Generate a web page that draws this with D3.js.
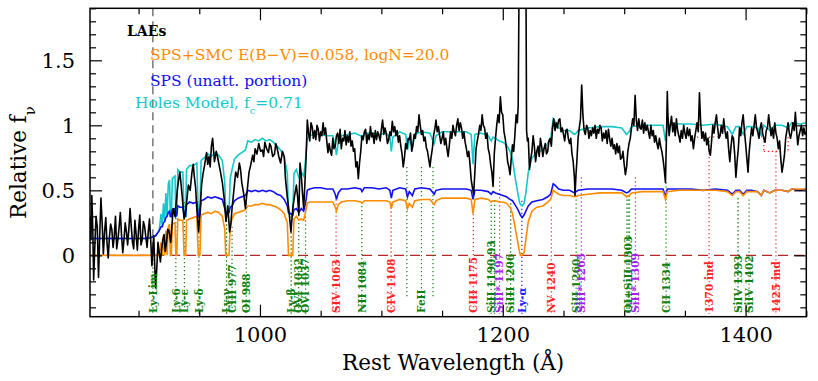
<!DOCTYPE html>
<html>
<head>
<meta charset="utf-8">
<script src="https://cdn.jsdelivr.net/npm/d3@7"></script>
<style>
body { margin: 0; background: #fff; }
svg text { font-family: "DejaVu Serif", serif; }
</style>
</head>
<body>
<div id="chart"></div>
<script>
// composite LAE spectrum [wavelength, relative f_nu]
var laeSpec = [
 [860,0.30],[860.8,0.12],[861.5,0.46],[862.3,0.20],[863,-0.19],[864,0.08],[865,0.30],[866,0.22],[867,-0.17],[868,0.15],
 [869,0.44],[870,0.25],[871,0.01],[872,0.18],[873,0.29],[874,0.10],[875,-0.02],[876,0.14],[877,0.24],[878,0.20],
 [879,0.06],[880,0.15],[881,0.30],[882,0.05],[883,0.12],[884,0.22],[885,0.33],[886,0.15],[887,0.02],[888,0.12],
 [889,0.25],[890,0.18],[891,0.08],[892,0.20],[893,0.36],[894,0.22],[895,0.10],[896,0.05],[897,0.27],[898,0.16],
 [899,0.04],[900,0.20],[901,0.31],[902,0.08],[903,0.12],[904,0.26],[905,0.22],[906,0.14],[907,0.06],[908,0.18],
 [909,0.28],[910,0.12],[911,-0.08],[911.8,0.05],[912.5,0.15],[913.2,-0.05],[914,-0.25],[915,-0.10],[916,0.10],[917,0.02],
 [918,-0.05],[919,0.05],[920,0.12],[921,0.16],[922,0.03],[923,0.10],[924,0.20],[925,0.19],[926.5,0.10],[928.5,0.36],
 [930,0.30],[932,0.51],[933,0.58],[934,0.64],[935,0.55],[936,0.45],[937.5,0.28],[938.5,0.33],[939.5,0.40],[941,0.54],
 [942.5,0.50],[944,0.64],[945,0.70],[946,0.60],[947,0.52],[948,0.35],[949.5,0.18],[951,0.40],[952,0.55],[953,0.62],
 [954.5,0.70],[956,0.79],[957,0.70],[958,0.76],[959,0.68],[960,0.84],[961,0.90],[962.5,0.72],[964,0.80],[965,0.76],
 [966,0.71],[967.5,0.64],[969,0.56],[970.5,0.44],[972,0.26],[973.5,0.38],[975,0.18],[976,0.24],[977,0.36],[978.5,0.50],
 [980,0.64],[981.5,0.60],[983,0.71],[984,0.66],[985,0.56],[986.5,0.48],[988,0.36],[989.5,0.50],[991,0.64],[992.5,0.70],
 [994,0.77],[995,0.72],[996,0.82],[997.5,0.78],[999,0.86],[1000.5,0.80],[1002,0.81],[1003,0.76],[1004,0.87],[1005.5,0.82],
 [1007,0.79],[1008,0.86],[1009,0.84],[1010.5,0.76],[1012,0.78],[1013,0.86],[1014,0.83],[1015.5,0.76],[1017,0.71],[1018.5,0.80],
 [1020,0.76],[1021,0.59],[1022.5,0.45],[1024,0.33],[1025.5,0.18],[1027,0.36],[1028.5,0.46],[1030,0.54],[1031,0.45],[1032,0.31],
 [1033,0.71],[1034,0.62],[1035,0.48],[1036,0.36],[1037,0.55],[1038,0.76],[1039,1.04],[1040,0.94],[1041,0.88],[1042,1.02],
 [1043,0.99],[1044,0.90],[1045,0.96],[1046,0.89],[1047,1.00],[1048,0.97],[1049,0.88],[1050,0.95],[1051,0.92],[1052,1.02],
 [1053,0.93],[1054,0.98],[1055,0.88],[1056,0.79],[1057,0.86],[1058,0.80],[1059,0.77],[1060,0.90],[1061,0.82],[1062,0.84],
 [1063,0.92],[1064,0.94],[1065,0.86],[1066,0.97],[1067,0.82],[1068,0.90],[1069,0.88],[1070,0.96],[1071,0.85],[1072,0.92],
 [1073,0.87],[1074,0.95],[1075,0.84],[1076,0.88],[1077,0.80],[1078,0.82],[1079,0.68],[1080,0.72],[1081,0.59],[1082,0.71],
 [1083,0.80],[1084,0.92],[1085,0.89],[1086,0.95],[1087,0.97],[1088,0.86],[1089,0.93],[1090,0.89],[1091,0.99],[1092,0.91],
 [1093,0.94],[1094,0.86],[1095,0.96],[1096,0.89],[1097,0.95],[1098,0.92],[1099,0.88],[1100,0.97],[1101,1.04],[1102,0.93],
 [1103,0.98],[1104,0.94],[1105,0.86],[1106,0.89],[1107,0.95],[1108,0.92],[1109,1.03],[1110,0.95],[1111,0.99],[1112,0.92],
 [1113,0.96],[1114,0.87],[1115,0.92],[1116,0.84],[1117,0.78],[1118,0.68],[1119,0.75],[1120,0.86],[1121,0.82],[1122,0.90],
 [1123,0.89],[1124,0.94],[1125,0.80],[1126,0.85],[1127,0.93],[1128,0.90],[1129,0.99],[1130,0.95],[1131,1.08],[1132,1.00],
 [1133,0.93],[1134,0.96],[1135,0.88],[1136,0.91],[1137,0.83],[1138,0.80],[1139,0.74],[1140,0.68],[1141,0.76],[1142,0.82],
 [1143,0.92],[1144,0.97],[1145,1.04],[1146,0.95],[1147,0.99],[1148,0.92],[1149,0.86],[1150,0.90],[1151,0.95],[1152,0.85],
 [1153,0.90],[1154,0.82],[1155,0.76],[1156,0.85],[1157,0.95],[1158,0.90],[1159,1.00],[1160,0.95],[1161,0.92],[1162,1.00],
 [1163,1.05],[1164,0.96],[1165,1.02],[1166,0.98],[1167,0.90],[1168,0.95],[1169,0.87],[1170,0.82],[1171,0.76],[1172,0.80],
 [1173,0.70],[1174,0.58],[1175,0.52],[1176,0.47],[1177,0.64],[1178,0.82],[1179,0.88],[1180,0.93],[1181,1.00],[1182,0.96],
 [1183,1.08],[1184,1.00],[1185,0.98],[1186,0.90],[1187,0.94],[1188,0.82],[1189,0.78],[1190,0.70],[1191,0.64],[1192,0.53],
 [1193,0.78],[1194,0.90],[1195,1.00],[1196,1.08],[1197,1.02],[1198,1.22],[1199,1.10],[1200,1.08],[1201,0.95],[1202,0.90],
 [1203,0.82],[1204,0.72],[1205,0.68],[1206,0.62],[1207,0.75],[1208,0.85],[1209,0.80],[1210,0.93],[1211,1.08],[1212,1.02],
 [1212.7,1.15],[1213.5,2.2],[1215,3.4],[1217,3.2],[1219,2.3],[1219.6,0.96],[1220.3,0.88],[1221,0.90],[1222,0.66],[1223,0.74],
 [1224,0.80],[1225,0.92],[1226,0.84],[1227,0.72],[1228,0.80],[1229,0.84],[1230,0.76],[1231,0.90],[1232,0.84],[1233,0.76],
 [1234,0.82],[1235,0.86],[1236,0.78],[1237,0.80],[1238,0.88],[1239,0.90],[1240,0.84],[1241,0.98],[1242,1.05],[1243,0.96],
 [1244,1.02],[1245,0.98],[1246,1.04],[1247,1.05],[1248,0.95],[1249,0.98],[1250,0.93],[1251,0.88],[1252,0.96],[1253,0.97],
 [1254,0.90],[1255,0.86],[1256,0.90],[1257,0.78],[1258,0.72],[1259,0.60],[1259.5,0.46],[1260.3,0.62],[1261,0.72],[1262,0.90],
 [1263,0.98],[1264,1.05],[1265,1.31],[1266,1.08],[1267,0.96],[1268,0.93],[1269,1.00],[1270,0.98],[1271,0.90],[1272,0.96],
 [1273,0.92],[1274,0.98],[1275,0.94],[1276,1.00],[1277,0.90],[1278,0.97],[1279,0.94],[1280,1.00],[1281,0.98],[1282,0.88],
 [1283,0.94],[1284,0.90],[1285,0.96],[1286,0.86],[1287,0.97],[1288,0.90],[1289,0.84],[1290,0.90],[1291,0.82],[1292,0.85],
 [1293,0.78],[1294,0.86],[1295,0.79],[1296,0.84],[1297,0.74],[1298,0.75],[1299,0.80],[1300,0.70],[1301,0.62],[1302,0.68],
 [1303,0.80],[1304,0.86],[1305,0.90],[1306,0.98],[1307,1.05],[1308,1.00],[1309,1.23],[1310,1.04],[1311,0.96],[1312,1.05],
 [1313,0.98],[1314,0.97],[1315,1.04],[1316,0.94],[1317,1.02],[1318,0.96],[1319,1.00],[1320,0.95],[1321,0.90],[1322,1.00],
 [1323,0.92],[1324,0.96],[1325,0.87],[1326,0.92],[1327,0.86],[1328,0.82],[1329,0.90],[1330,0.84],[1331,0.80],[1332,0.74],
 [1333,0.66],[1334,0.56],[1335,1.00],[1335.5,1.26],[1336,1.08],[1337,0.92],[1338,1.00],[1339,1.07],[1340,0.95],[1341,1.02],
 [1342,0.92],[1343,1.05],[1344,0.96],[1345,0.92],[1346,0.87],[1347,0.96],[1348,0.90],[1349,1.00],[1350,0.94],[1351,0.90],
 [1352,0.98],[1353,0.92],[1354,0.97],[1355,0.88],[1356,0.92],[1357,0.82],[1358,0.90],[1359,0.96],[1360,1.02],[1361,0.95],
 [1362,1.25],[1363,1.02],[1364,0.90],[1365,0.95],[1366,0.88],[1367,0.94],[1368,0.85],[1369,0.90],[1370,0.80],[1371,0.77],
 [1372,0.88],[1373,1.00],[1374,0.94],[1375,1.02],[1376,1.08],[1377,0.98],[1378,0.90],[1379,0.92],[1380,1.00],[1381,0.94],
 [1382,1.05],[1383,0.96],[1384,0.90],[1385,0.95],[1386,0.82],[1387,0.72],[1388,0.84],[1389,0.92],[1390,0.90],[1391,0.78],
 [1392,0.60],[1393,0.72],[1394,0.82],[1395,0.98],[1396,0.92],[1397,1.02],[1398,1.08],[1399,0.96],[1400,0.86],[1401,0.75],
 [1402,0.64],[1403,0.80],[1404,0.90],[1405,0.98],[1406,0.92],[1407,1.00],[1408,1.08],[1409,0.98],[1410,0.95],[1411,0.90],
 [1412,0.98],[1413,1.02],[1414,0.94],[1415,0.90],[1416,0.87],[1417,0.96],[1418,0.98],[1419,1.08],[1420,1.00],[1421,0.92],
 [1422,0.98],[1423,0.90],[1424,1.02],[1425,0.94],[1426,0.90],[1427,0.82],[1428,0.88],[1429,0.74],[1430,0.64],[1431,0.70],
 [1432,0.77],[1433,0.90],[1434,0.96],[1435,1.02],[1436,0.94],[1437,0.90],[1438,0.95],[1439,1.02],[1440,0.96],[1441,1.10],
 [1442,0.96],[1443,0.85],[1444,0.92],[1445,0.96],[1446,1.00],[1447,0.92],[1448,0.98],[1449,0.93],[1450,0.95]
];

// SPS, unattenuated portion
var spsUnatt = [
 [860,0.13],[905,0.13],[910,0.135],[914,0.15],[917,0.19],[918.5,0.22],[919.5,0.22],[920.5,0.25],[921.5,0.26],[922.5,0.29],
 [923.5,0.30],[924.5,0.33],[925.5,0.34],[926.2,0.30],[927,0.30],[927.8,0.35],[930,0.36],[930.7,0.30],[931.5,0.31],[932.3,0.38],
 [934,0.37],[936.5,0.37],[937.5,0.30],[938.8,0.30],[939.5,0.39],[942,0.41],[945,0.40],[948,0.41],[949.2,0.30],[950.5,0.30],
 [951.5,0.42],[954,0.43],[957,0.45],[960,0.44],[963,0.45],[966,0.44],[969,0.43],[971,0.36],[971.8,0.33],[974.5,0.33],
 [975.5,0.37],[977,0.38],[979,0.42],[982,0.44],[985,0.45],[988,0.46],[990,0.50],[993,0.49],[996,0.50],[999,0.49],
 [1002,0.50],[1005,0.49],[1008,0.50],[1011,0.49],[1014,0.47],[1017,0.46],[1020,0.43],[1022.5,0.38],[1023.5,0.33],[1027,0.31],
 [1028,0.35],[1030,0.36],[1032,0.33],[1034,0.36],[1036,0.34],[1037.5,0.40],[1039,0.50],[1041,0.51],[1045,0.52],[1050,0.52],
 [1055,0.51],[1060,0.51],[1062,0.47],[1063,0.43],[1064.5,0.48],[1067,0.51],[1072,0.51],[1078,0.52],[1083,0.51],[1084,0.49],
 [1086,0.52],[1092,0.52],[1098,0.51],[1104,0.52],[1107,0.50],[1108.2,0.44],[1109.5,0.50],[1115,0.52],[1120,0.51],[1121.5,0.45],
 [1123,0.49],[1125.5,0.46],[1127.5,0.51],[1133,0.52],[1140,0.51],[1143.5,0.47],[1145,0.50],[1150,0.51],[1160,0.51],[1170,0.51],
 [1174,0.50],[1175.5,0.43],[1177,0.50],[1182,0.50],[1188,0.49],[1190.5,0.47],[1192,0.49],[1194,0.48],[1197,0.47],[1200,0.46],
 [1203,0.45],[1206,0.43],[1208,0.42],[1210,0.39],[1212,0.36],[1213.5,0.33],[1214.5,0.31],[1216,0.29],[1217.5,0.31],[1219,0.34],
 [1221,0.38],[1224,0.41],[1228,0.42],[1233,0.43],[1237,0.45],[1239.5,0.47],[1241.5,0.55],[1243,0.54],[1246,0.51],[1250,0.50],
 [1255,0.50],[1259,0.48],[1260.5,0.49],[1262,0.50],[1270,0.51],[1280,0.51],[1290,0.51],[1298,0.50],[1302,0.48],[1304,0.49],
 [1306,0.51],[1315,0.51],[1325,0.51],[1332,0.51],[1334,0.45],[1335.5,0.51],[1345,0.51],[1355,0.51],[1365,0.50],[1375,0.51],
 [1385,0.50],[1389,0.47],[1392,0.50],[1395,0.50],[1398,0.47],[1401,0.50],[1405,0.50],[1410,0.49],[1413,0.46],[1415,0.50],
 [1420,0.48],[1424,0.50],[1430,0.50],[1435,0.49],[1438,0.51],[1445,0.50],[1450,0.51]
];

// SPS + SMC, E(B-V)=0.058, logN=20.0
var spsSmc = [
 [860,0],[917,0],[918.5,0.10],[919.5,0],[920.5,0.15],[921.5,0],[922.5,0.19],[923.5,0],[924.5,0.22],[925.5,0.24],
 [926.2,0],[927,0],[927.8,0.24],[930,0.25],[930.7,0],[931.5,0],[932.3,0.28],[934,0.27],[936.5,0.27],[937.5,0],
 [938.8,0],[939.5,0.27],[942,0.28],[945,0.29],[948,0.30],[949.2,0],[950.5,0],[951.5,0.31],[954,0.32],[957,0.33],
 [960,0.32],[963,0.34],[966,0.33],[969,0.30],[971,0.20],[971.8,0],[974.5,0],[975.5,0.22],[977,0.28],[979,0.32],
 [982,0.33],[985,0.34],[988,0.35],[990,0.38],[993,0.38],[996,0.39],[999,0.39],[1002,0.40],[1005,0.39],[1008,0.39],
 [1011,0.38],[1014,0.37],[1017,0.35],[1020,0.32],[1022.5,0.25],[1023.5,0],[1027,0],[1028,0.28],[1030,0.30],[1032,0.27],
 [1034,0.28],[1036,0.27],[1037.5,0.33],[1039,0.40],[1041,0.41],[1045,0.41],[1050,0.41],[1055,0.41],[1060,0.41],[1062,0.37],
 [1063,0.34],[1064.5,0.39],[1067,0.41],[1072,0.42],[1078,0.42],[1083,0.41],[1084,0.40],[1086,0.42],[1092,0.42],[1098,0.42],
 [1104,0.42],[1107,0.41],[1108.2,0.36],[1109.5,0.41],[1115,0.43],[1120,0.42],[1121.5,0.36],[1123,0.40],[1125.5,0.37],[1127.5,0.42],
 [1133,0.43],[1140,0.43],[1143.5,0.39],[1145,0.42],[1150,0.44],[1160,0.44],[1170,0.44],[1174,0.43],[1175.5,0.32],[1177,0.43],
 [1182,0.44],[1188,0.43],[1190.5,0.41],[1192,0.42],[1194,0.42],[1197,0.41],[1200,0.41],[1203,0.40],[1206,0.37],[1208,0.32],
 [1210,0.22],[1212,0.12],[1213.5,0.04],[1214.5,0],[1216,0],[1217.5,0.02],[1219,0.12],[1221,0.26],[1224,0.34],[1228,0.37],
 [1233,0.38],[1237,0.41],[1239.5,0.43],[1241.5,0.50],[1243,0.49],[1246,0.47],[1250,0.46],[1255,0.46],[1259,0.45],[1260.5,0.45],
 [1262,0.46],[1270,0.47],[1280,0.48],[1290,0.48],[1298,0.48],[1302,0.45],[1304,0.46],[1306,0.48],[1315,0.49],[1325,0.49],
 [1332,0.49],[1334,0.43],[1335.5,0.49],[1345,0.50],[1355,0.50],[1365,0.50],[1375,0.50],[1385,0.49],[1389,0.46],[1392,0.49],
 [1395,0.49],[1398,0.46],[1401,0.49],[1405,0.49],[1410,0.49],[1413,0.46],[1415,0.50],[1420,0.48],[1424,0.50],[1430,0.50],
 [1435,0.49],[1438,0.51],[1445,0.51],[1450,0.51]
];

// holes model, f_c = 0.71
var holesModel = [
 [860,0.13],[905,0.13],[910,0.135],[914,0.15],[917,0.19],[918.5,0.32],[919.5,0.22],[920.5,0.40],[921.5,0.26],[922.5,0.48],
 [923.5,0.30],[924.5,0.55],[925.5,0.58],[926.2,0.30],[927,0.30],[927.8,0.59],[930,0.61],[930.7,0.30],[931.5,0.31],[932.3,0.66],
 [934,0.64],[936.5,0.64],[937.5,0.30],[938.8,0.30],[939.5,0.66],[942,0.69],[945,0.69],[948,0.71],[949.2,0.30],[950.5,0.30],
 [951.5,0.73],[954,0.75],[957,0.78],[960,0.76],[963,0.79],[966,0.77],[969,0.73],[971,0.56],[971.8,0.33],[974.5,0.33],
 [975.5,0.59],[977,0.66],[979,0.74],[982,0.77],[985,0.79],[988,0.81],[990,0.88],[993,0.87],[996,0.89],[999,0.88],
 [1002,0.90],[1005,0.88],[1008,0.89],[1011,0.87],[1014,0.84],[1017,0.81],[1020,0.75],[1022.5,0.63],[1023.5,0.33],[1027,0.31],
 [1028,0.63],[1030,0.66],[1032,0.60],[1034,0.64],[1036,0.61],[1037.5,0.73],[1039,0.90],[1041,0.92],[1045,0.93],[1050,0.93],
 [1055,0.92],[1060,0.92],[1062,0.84],[1063,0.77],[1064.5,0.87],[1067,0.92],[1072,0.93],[1078,0.94],[1083,0.92],[1084,0.89],
 [1086,0.94],[1092,0.94],[1098,0.93],[1104,0.94],[1107,0.91],[1108.2,0.80],[1109.5,0.91],[1115,0.95],[1120,0.93],[1121.5,0.81],
 [1123,0.89],[1125.5,0.83],[1127.5,0.93],[1133,0.95],[1140,0.94],[1143.5,0.86],[1145,0.92],[1150,0.95],[1160,0.95],[1170,0.95],
 [1174,0.93],[1175.5,0.70],[1177,0.93],[1182,0.94],[1188,0.92],[1190.5,0.88],[1192,0.91],[1194,0.90],[1197,0.88],[1200,0.87],
 [1203,0.85],[1206,0.80],[1208,0.74],[1210,0.61],[1212,0.50],[1213.5,0.42],[1214.5,0.39],[1216,0.38],[1217.5,0.40],[1219,0.48],
 [1221,0.64],[1224,0.75],[1228,0.79],[1233,0.81],[1237,0.86],[1239.5,0.90],[1241.5,1.05],[1243,1.03],[1246,0.98],[1250,0.96],
 [1255,0.96],[1259,0.93],[1260.5,0.94],[1262,0.96],[1270,0.98],[1280,0.99],[1290,0.99],[1298,0.98],[1302,0.93],[1304,0.95],
 [1306,0.99],[1315,1.00],[1325,1.00],[1332,1.00],[1334,0.88],[1335.5,1.00],[1345,1.01],[1355,1.01],[1365,1.00],[1375,1.01],
 [1385,0.99],[1389,0.93],[1392,0.99],[1395,0.99],[1398,0.93],[1401,0.99],[1405,0.99],[1410,0.98],[1413,0.92],[1415,1.00],
 [1420,0.96],[1424,1.00],[1430,1.00],[1435,0.98],[1438,1.02],[1445,1.01],[1450,1.02]
];

// line identifications
var lineWave  = [930.7, 937.8, 949.7, 972.5, 977.0, 988.7, 1025.7, 1031.9, 1037.6, 1062.7, 1083.9, 1108.0,
                 1121.0, 1133.0, 1142.5, 1175.7, 1190.4, 1193.3, 1197.4, 1206.5, 1215.7, 1240.0, 1260.4, 1264.7,
                 1302.2, 1303.3, 1304.4, 1309.3, 1334.5, 1370.0, 1393.8, 1402.8, 1425.0];
var lineLabel = ["Ly-6", "Ly-\u03b5", "Ly-\u03b4", "Ly-\u03b3", "CIII 977", "OI 988", "Ly-\u03b2", "OVI 1032", "OVI 1037", "SIV 1063", "NII 1084", "CIV 1108",
                 "", "FeII", "", "CIII 1175", "SiII 1190,93", "", "SiII* 1197", "SiIII 1206", "Ly-\u03b1", "NV 1240", "SiII 1260", "SiII* 1265",
                 "", "OI+SiII 1303", "", "SiII* 1309", "CII 1334", "1370 ind", "SiIV 1393", "SiIV 1402", "1425 ind"];
var lineKind  = ["ism", "ism", "ism", "ism", "ism", "ism", "ism", "ism", "ism", "phot", "ism", "phot",
                 "ism", "ism", "ism", "phot", "ism", "ism", "fine", "ism", "lya", "phot", "ism", "fine",
                 "ism", "ism", "ism", "fine", "ism", "phot", "ism", "ism", "phot"];
var lineTop   = [0.41, 0.41, 0.33, 0.30, 0.22, 0.43, 0.30, 0.31, 0.36, 0.43, 0.41, 0.40,
                 0.68, 0.68, 0.68, 0.38, 0.42, 0.42, 0.60, 0.40, 0.42, 0.37, 0.46, 0.60,
                 0.46, 0.46, 0.46, 0.60, 0.56, 0.91, 0.44, 0.43, 0.80];
var lineFloor = [-0.45, -0.45, -0.45, -0.45, -0.45, -0.45, -0.45, -0.45, -0.45, -0.45, -0.45, -0.45,
                 -0.33, -0.33, -0.33, -0.45, -0.45, -0.45, -0.45, -0.45, -0.45, -0.45, -0.45, -0.45,
                 -0.45, -0.45, -0.45, -0.45, -0.45, -0.45, -0.45, -0.45, -0.45];

// photospheric index windows
var indexLo = [1360, 1415];
var indexHi = [1378, 1435];
var indexLevel = [0.91, 0.80];
var indexCap = [0.91, 0.91];

var lymanLimit = 911.8;

var xTicks = [1000, 1200, 1400];
var yTicks = [0, 0.5, 1, 1.5];

var kindColor = { ism: "#0c800c", phot: "#ff2222", fine: "#a321e8", lya: "#1a1aff" };

var W = 818, H = 381;
var margin = { left: 90, right: 11.7, top: 8.3, bottom: 64.3 };
var x0 = margin.left, x1 = W - margin.right, y0 = margin.top, y1 = H - margin.bottom;

var svg = d3.select("#chart").append("svg").attr("width", W).attr("height", H);

var x = d3.scaleLinear().domain([860, 1450]).range([x0, x1]);
var y = d3.scaleLinear().domain([-0.472, 1.9]).range([y1, y0]);

svg.append("clipPath").attr("id", "plot").append("rect")
  .attr("x", x0).attr("y", y0).attr("width", x1 - x0).attr("height", y1 - y0);

var g = svg.append("g").attr("clip-path", "url(#plot)");

// zero level
g.append("line").attr("x1", x0).attr("x2", x1).attr("y1", y(0)).attr("y2", y(0))
  .attr("stroke", "#b4282a").attr("stroke-width", 1.2).attr("stroke-dasharray", "10,6");

// Lyman limit
g.append("line").attr("x1", x(lymanLimit)).attr("x2", x(lymanLimit)).attr("y1", y0).attr("y2", y(0))
  .attr("stroke", "#555").attr("stroke-width", 1.2).attr("stroke-dasharray", "8,5");
g.append("line").attr("x1", x(lymanLimit)).attr("x2", x(lymanLimit)).attr("y1", y(0)).attr("y2", y(-0.45))
  .attr("stroke", kindColor.ism).attr("stroke-width", 1.2).attr("stroke-dasharray", "1.3,2.7");

var lines = lineWave.map(function (w, i) {
  return { w: w, label: lineLabel[i], kind: lineKind[i], top: lineTop[i], floor: lineFloor[i] };
});

g.selectAll("line.ident").data(lines).enter().append("line")
  .attr("class", "ident")
  .attr("x1", function (d) { return x(d.w); })
  .attr("x2", function (d) { return x(d.w); })
  .attr("y1", function (d) { return y(d.top); })
  .attr("y2", function (d) { return y(d.floor); })
  .attr("stroke", function (d) { return kindColor[d.kind]; })
  .attr("stroke-width", 1.2)
  .attr("stroke-dasharray", "1.3,2.7");

indexLo.forEach(function (lo, i) {
  var c = kindColor.phot;
  g.append("line").attr("x1", x(lo)).attr("x2", x(indexHi[i])).attr("y1", y(indexLevel[i])).attr("y2", y(indexLevel[i]))
    .attr("stroke", c).attr("stroke-width", 1.2).attr("stroke-dasharray", "1.3,2.7");
  [lo, indexHi[i]].forEach(function (e) {
    g.append("line").attr("x1", x(e)).attr("x2", x(e)).attr("y1", y(indexCap[i])).attr("y2", y(indexLevel[i]))
      .attr("stroke", c).attr("stroke-width", 1.2).attr("stroke-dasharray", "1.3,2.7");
  });
});

var line = d3.line().x(function (d) { return x(d[0]); }).y(function (d) { return y(d[1]); });

g.append("path").datum(holesModel).attr("d", line).attr("fill", "none")
  .attr("stroke", "#14c8cc").attr("stroke-width", 1.6);
g.append("path").datum(spsUnatt).attr("d", line).attr("fill", "none")
  .attr("stroke", "#1010f0").attr("stroke-width", 1.6);
g.append("path").datum(spsSmc).attr("d", line).attr("fill", "none")
  .attr("stroke", "#ff8c00").attr("stroke-width", 1.6);
g.append("path").datum(laeSpec).attr("d", line).attr("fill", "none")
  .attr("stroke", "#000").attr("stroke-width", 1.6).attr("stroke-linejoin", "round");

// line labels
var labels = [{ w: lymanLimit, label: "Ly-Lim", kind: "ism" }].concat(lines.filter(function (d) { return d.label; }));
svg.selectAll("text.ident").data(labels).enter().append("text")
  .attr("class", "ident")
  .attr("transform", function (d) { return "translate(" + x(d.w) + ",313) rotate(-90)"; })
  .attr("dy", "0.36em")
  .attr("fill", function (d) { return kindColor[d.kind]; })
  .style("font-size", "10.5px").style("font-weight", "bold")
  .text(function (d) { return d.label; });

// frame and ticks
function minorRange(a, b, s) { var r = []; for (var v = a; v <= b + 1e-9; v += s) r.push(+v.toFixed(3)); return r; }
var xMinor = minorRange(900, 1450, 50).filter(function (v) { return xTicks.indexOf(v) < 0; });
var yMinor = minorRange(-0.4, 1.9, 0.1).filter(function (v) { return yTicks.indexOf(v) < 0; });

function addAxis(axis, tx, ty) {
  var a = svg.append("g").attr("transform", "translate(" + tx + "," + ty + ")").call(axis);
  a.select(".domain").remove();
  a.selectAll("line").attr("stroke", "#000").attr("stroke-width", 1.2);
  return a;
}

var bottom = addAxis(d3.axisBottom(x).tickValues(xTicks).tickSize(-12).tickPadding(10).tickFormat(d3.format("d")), 0, y1);
addAxis(d3.axisBottom(x).tickValues(xMinor).tickSize(-6).tickFormat(""), 0, y1);
addAxis(d3.axisTop(x).tickValues(xTicks).tickSize(-12).tickFormat(""), 0, y0);
addAxis(d3.axisTop(x).tickValues(xMinor).tickSize(-6).tickFormat(""), 0, y0);
var left = addAxis(d3.axisLeft(y).tickValues(yTicks).tickSize(-12).tickPadding(15).tickFormat(d3.format("")), x0, 0);
addAxis(d3.axisLeft(y).tickValues(yMinor).tickSize(-6).tickFormat(""), x0, 0);
addAxis(d3.axisRight(y).tickValues(yTicks).tickSize(-12).tickFormat(""), x1, 0);
addAxis(d3.axisRight(y).tickValues(yMinor).tickSize(-6).tickFormat(""), x1, 0);

[bottom, left].forEach(function (a) {
  a.selectAll("text").attr("fill", "#000").style("font-family", "DejaVu Serif, serif").style("font-size", "21px");
});

svg.append("rect").attr("x", x0).attr("y", y0).attr("width", x1 - x0).attr("height", y1 - y0)
  .attr("fill", "none").attr("stroke", "#000").attr("stroke-width", 1.5);

// axis titles
svg.append("text").attr("x", (x0 + x1) / 2 + 5).attr("y", 370).attr("text-anchor", "middle")
  .style("font-size", "21.5px").text("Rest Wavelength (\u00c5)");

var yt = svg.append("text").attr("transform", "translate(26," + ((y0 + y1) / 2) + ") rotate(-90)")
  .attr("text-anchor", "middle").style("font-size", "21.5px");
yt.append("tspan").text("Relative f");
yt.append("tspan").attr("baseline-shift", "sub").style("font-size", "15px").text("\u03bd");

// legend
svg.append("text").attr("x", 127).attr("y", 36).style("font-size", "14px").style("font-weight", "bold")
  .attr("fill", "#000").text("LAEs");
svg.append("text").attr("x", 150).attr("y", 59.5).style("font-size", "15.5px")
  .attr("fill", "#ff8c00").text("SPS+SMC E(B\u2212V)=0.058, logN=20.0");
svg.append("text").attr("x", 150).attr("y", 86).style("font-size", "15.5px")
  .attr("fill", "#1010f0").text("SPS (unatt. portion)");
var hl = svg.append("text").attr("x", 135).attr("y", 108).style("font-size", "15.5px").attr("fill", "#14c8cc");
hl.append("tspan").text("Holes Model, f");
hl.append("tspan").attr("baseline-shift", "sub").style("font-size", "10px").text("c");
hl.append("tspan").text("=0.71");
</script>
</body>
</html>
